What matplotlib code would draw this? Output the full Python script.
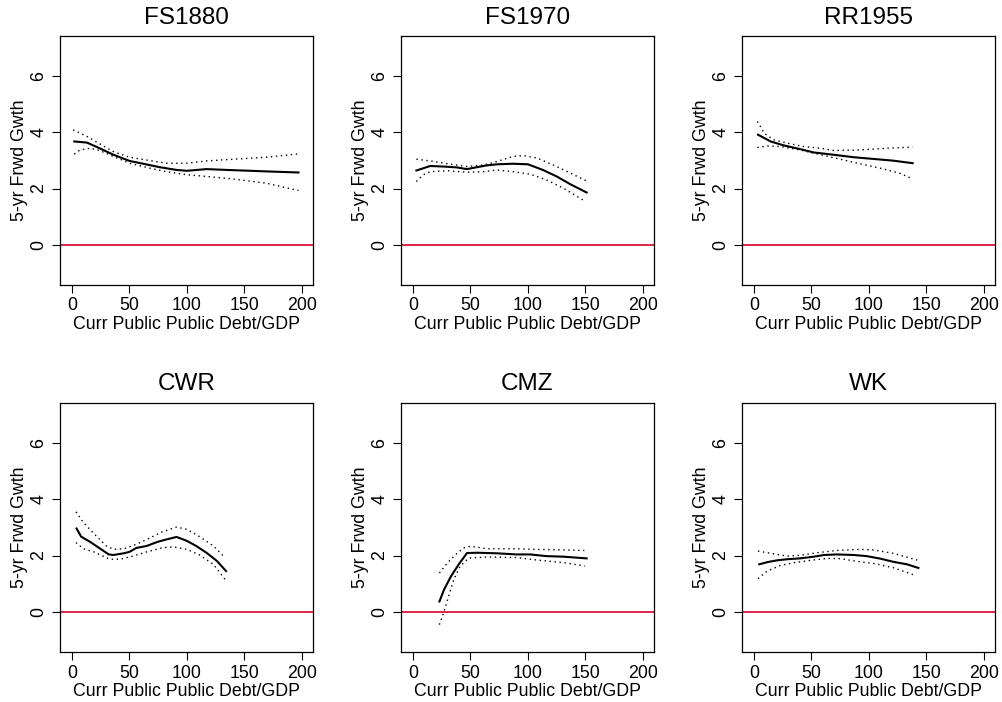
import matplotlib
matplotlib.use("Agg")
import matplotlib.pyplot as plt
import numpy as np

plt.rcParams['font.family'] = ['Liberation Sans', 'DejaVu Sans']

# ===========================================
# donnees
# ===========================================

titles = ["FS1880", "FS1970", "RR1955", "CWR", "CMZ", "WK"]

# FS1880
fs1880_x = [2, 13, 24, 36, 50, 62, 76, 91, 100, 117, 135, 155, 175, 197]
fs1880_y = [3.67, 3.63, 3.43, 3.20, 2.98, 2.88, 2.76, 2.66, 2.63, 2.69, 2.66, 2.63, 2.60, 2.57]
fs1880_up_x = [1, 13, 24, 36, 50, 68, 82, 100, 117, 140, 169, 197]
fs1880_up_y = [4.08, 3.85, 3.59, 3.31, 3.11, 2.99, 2.90, 2.90, 2.98, 3.04, 3.11, 3.23]
fs1880_lo_x = [2, 7, 16, 24, 36, 50, 68, 82, 100, 117, 140, 169, 197]
fs1880_lo_y = [3.22, 3.37, 3.43, 3.35, 3.14, 2.90, 2.72, 2.60, 2.49, 2.43, 2.34, 2.19, 1.93]

# FS1970
fs1970_x = [3, 15, 27, 38, 47, 56, 64, 73, 87, 100, 113, 125, 137, 151]
fs1970_y = [2.64, 2.80, 2.78, 2.75, 2.69, 2.76, 2.82, 2.86, 2.88, 2.86, 2.66, 2.43, 2.15, 1.86]
fs1970_up_x = [3, 15, 30, 47, 62, 73, 87, 96, 108, 125, 151]
fs1970_up_y = [3.04, 2.98, 2.88, 2.78, 2.84, 2.96, 3.14, 3.17, 3.08, 2.78, 2.27]
fs1970_lo_x = [3, 9, 15, 30, 47, 62, 73, 87, 102, 116, 131, 150]
fs1970_lo_y = [2.25, 2.49, 2.60, 2.63, 2.58, 2.60, 2.66, 2.60, 2.51, 2.31, 2.01, 1.54]

# RR1955
rr1955_x = [3.5, 9, 14.5, 26, 40, 52, 69, 87, 104, 121, 138]
rr1955_y = [3.91, 3.79, 3.67, 3.53, 3.40, 3.28, 3.20, 3.11, 3.05, 2.99, 2.90]
rr1955_up_x = [3, 9, 17, 29, 43, 58, 69, 92, 116, 138]
rr1955_up_y = [4.38, 3.96, 3.73, 3.61, 3.49, 3.43, 3.35, 3.37, 3.43, 3.47]
rr1955_lo_x = [3, 12, 23, 40, 58, 75, 92, 110, 127, 138]
rr1955_lo_y = [3.46, 3.51, 3.49, 3.37, 3.20, 3.04, 2.88, 2.72, 2.54, 2.34]

# CWR
cwr_x = [4, 8, 16, 24, 32, 36, 45, 50, 56, 65, 74, 82, 91, 100, 108, 117, 126, 134]
cwr_y = [2.96, 2.67, 2.48, 2.26, 2.04, 2.02, 2.08, 2.13, 2.27, 2.34, 2.48, 2.57, 2.66, 2.52, 2.34, 2.10, 1.81, 1.45]
cwr_up_x = [3.5, 10, 19, 30, 36, 45, 56, 68, 79, 91, 100, 111, 123, 133]
cwr_up_y = [3.55, 3.17, 2.78, 2.34, 2.22, 2.24, 2.40, 2.63, 2.85, 3.01, 2.93, 2.67, 2.34, 1.93]
cwr_lo_x = [3.5, 10, 19, 33, 42, 53, 65, 79, 88, 100, 111, 123, 133]
cwr_lo_y = [2.46, 2.24, 2.13, 1.87, 1.87, 1.98, 2.13, 2.28, 2.31, 2.22, 2.02, 1.69, 1.16]

# CMZ
cmz_x = [23, 27, 33, 40, 47, 56, 73, 90, 102, 116, 131, 151]
cmz_y = [0.37, 0.79, 1.26, 1.70, 2.09, 2.10, 2.08, 2.04, 2.04, 1.98, 1.96, 1.90]
cmz_up_x = [23, 30, 37, 44, 50, 65, 90, 108, 131, 149]
cmz_up_y = [1.38, 1.74, 2.03, 2.27, 2.33, 2.24, 2.24, 2.22, 2.20, 2.18]
cmz_lo_x = [23, 27, 31, 35.5, 41, 48.5, 65, 90, 108, 131, 149.5]
cmz_lo_y = [-0.45, 0.02, 0.55, 1.15, 1.62, 1.91, 1.95, 1.93, 1.84, 1.75, 1.63]

# WK
wk_x = [4.6, 12, 20, 29, 40, 52, 61, 72, 87, 98, 110, 121, 133, 143]
wk_y = [1.69, 1.77, 1.83, 1.87, 1.90, 1.96, 2.02, 2.04, 2.02, 1.98, 1.89, 1.78, 1.69, 1.56]
wk_up_x = [3.5, 14.5, 29, 40, 55, 72, 92, 104, 121, 142]
wk_up_y = [2.16, 2.08, 1.98, 2.01, 2.10, 2.18, 2.22, 2.20, 2.08, 1.84]
wk_lo_x = [3.5, 11.5, 23, 35, 49, 64, 75, 92, 104, 121, 140]
wk_lo_y = [1.18, 1.45, 1.65, 1.75, 1.83, 1.90, 1.89, 1.78, 1.72, 1.57, 1.30]

series = [
    (fs1880_x, fs1880_y, fs1880_up_x, fs1880_up_y, fs1880_lo_x, fs1880_lo_y),
    (fs1970_x, fs1970_y, fs1970_up_x, fs1970_up_y, fs1970_lo_x, fs1970_lo_y),
    (rr1955_x, rr1955_y, rr1955_up_x, rr1955_up_y, rr1955_lo_x, rr1955_lo_y),
    (cwr_x, cwr_y, cwr_up_x, cwr_up_y, cwr_lo_x, cwr_lo_y),
    (cmz_x, cmz_y, cmz_up_x, cmz_up_y, cmz_lo_x, cmz_lo_y),
    (wk_x, wk_y, wk_up_x, wk_up_y, wk_lo_x, wk_lo_y),
]

x_ticks = [0, 50, 100, 150, 200]
y_ticks = [0, 2, 4, 6]

# ===========================================
# affichage
# ===========================================

fig = plt.figure(figsize=(10.03, 7.02), dpi=100)

lefts = [60 / 1003, 401 / 1003, 742 / 1003]
bottoms = [1 - 285 / 702, 1 - 652 / 702]
w = 253 / 1003
h = 249 / 702

for i, (title, s) in enumerate(zip(titles, series)):
    ax = fig.add_axes([lefts[i % 3], bottoms[i // 3], w, h])
    x, y, ux, uy, lx, ly = s
    ax.axhline(0, color="#DC143C", lw=1.3, zorder=1)
    ax.plot(ux, uy, color="black", lw=1.0, dashes=(1, 2.6))
    ax.plot(lx, ly, color="black", lw=1.0, dashes=(1, 2.6))
    ax.plot(x, y, color="black", lw=1.5)
    ax.set_xlim(-10.4, 209.6)
    ax.set_ylim(-1.42, 7.41)
    ax.set_xticks(x_ticks)
    ax.set_yticks(y_ticks)
    ax.set_yticklabels([str(t) for t in y_ticks], rotation=90, va="center")
    ax.tick_params(direction="out", length=6, width=0.8, labelsize=12.8, pad=3)
    for sp in ax.spines.values():
        sp.set_linewidth(0.9)
    ax.set_title(title, fontsize=17.5, pad=9)
    ax.set_xlabel("Curr Public Public Debt/GDP", fontsize=12.8, labelpad=1)
    ax.set_ylabel("5-yr Frwd Gwth", fontsize=12.8, labelpad=2)

fig.savefig("out.png", dpi=100)
